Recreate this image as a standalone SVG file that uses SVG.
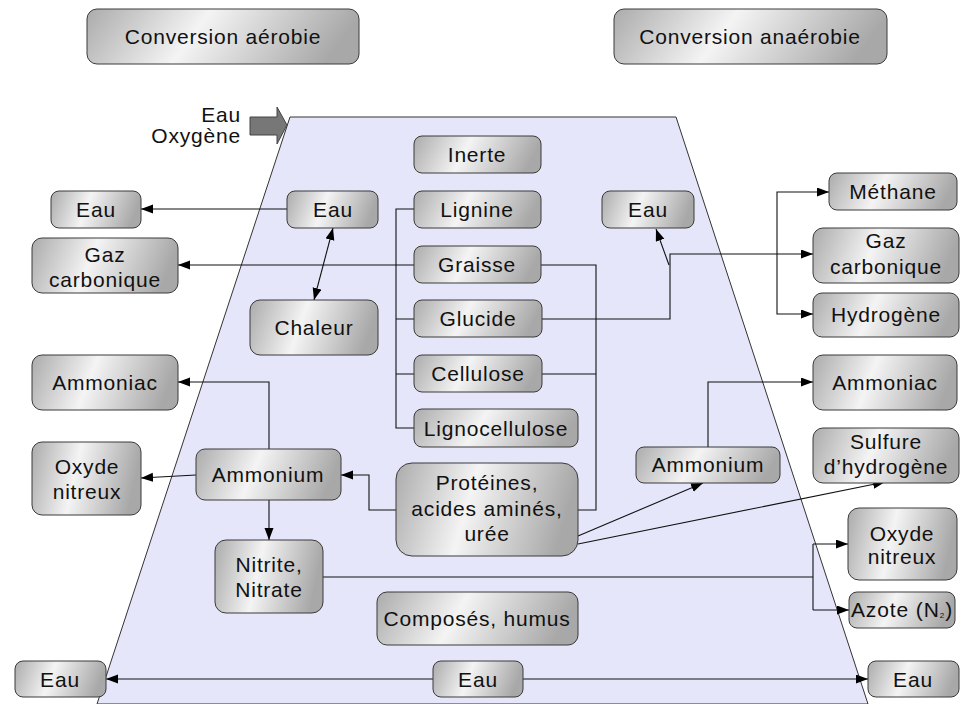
<svg xmlns="http://www.w3.org/2000/svg" width="961" height="704" viewBox="0 0 961 704">
<defs>
<linearGradient id="g" x1="0" y1="0" x2="1" y2="0.15">
<stop offset="0" stop-color="#ababab"/>
<stop offset="0.45" stop-color="#f4f4f4"/>
<stop offset="1" stop-color="#a8a8a8"/>
</linearGradient>
<marker id="ah" markerUnits="userSpaceOnUse" markerWidth="13" markerHeight="10" refX="12" refY="4.5" orient="auto-start-reverse">
<path d="M0,0 L12,4.5 L0,9 z" fill="#000"/>
</marker>
</defs>
<style>
.b{fill:url(#g);stroke:#3a3a3a;stroke-width:1}
.t{font-family:"Liberation Sans",Arial,sans-serif;font-size:21px;letter-spacing:0.8px;fill:#111;text-anchor:middle}
.c{fill:none;stroke:#111;stroke-width:1.1}
.a{marker-end:url(#ah)}
.s{marker-start:url(#ah)}
</style>
<rect width="961" height="704" fill="#fff"/>
<polygon points="290,117 676,117 868,704 97,704" fill="#e6e6fb" stroke="#333" stroke-width="1"/>
<g id="inlet">
<polygon points="250,117 277,117 277,107 287,125 277,144 277,135 250,135" fill="#777" stroke="#444" stroke-width="1"/>
<text class="t" x="241" y="122" style="text-anchor:end">Eau</text>
<text class="t" x="241" y="143" style="text-anchor:end">Oxygène</text>
</g>
<g id="connectors">
<path class="c a" d="M287,209 H141"/>
<path class="c a s" d="M333,228 L314,300"/>
<path class="c a" d="M414,265 H178"/>
<path class="c" d="M414,209 H396 V428 H414 M396,319 H414 M396,374 H414"/>
<path class="c" d="M541,265 H596 V510 H578 M542,374 H596"/>
<path class="c a" d="M542,319 H670 V254 H813"/>
<path class="c a" d="M669,265 L656,229"/>
<path class="c a" d="M777,254 V192 H829"/>
<path class="c a" d="M777,254 V314 H813"/>
<path class="c a" d="M269,449 V382 H178"/>
<path class="c a" d="M196,475 L141,478"/>
<path class="c a" d="M269,500 V540"/>
<path class="c a" d="M396,510 H369 V475 H341"/>
<path class="c a" d="M578,536 L703,483"/>
<path class="c a" d="M578,544 L885,482"/>
<path class="c a" d="M708,447 V382 H813"/>
<path class="c" d="M323,577 H813 M813,544 V610"/>
<path class="c a" d="M813,544 H848"/>
<path class="c a" d="M813,610 H849"/>
<path class="c a" d="M433,679 H106"/>
<path class="c a" d="M523,679 H868"/>
</g>
<g id="conv-aerobie"><rect class="b" x="87" y="9" width="272" height="55" rx="10"/><text class="t" x="223" y="44">Conversion aérobie</text></g>
<g id="conv-anaerobie"><rect class="b" x="614" y="9" width="273" height="55" rx="10"/><text class="t" x="750" y="44">Conversion anaérobie</text></g>
<g id="inerte"><rect class="b" x="414" y="136" width="127" height="37" rx="8"/><text class="t" x="477" y="162">Inerte</text></g>
<g id="lignine"><rect class="b" x="414" y="191" width="127" height="37" rx="8"/><text class="t" x="477" y="217">Lignine</text></g>
<g id="graisse"><rect class="b" x="414" y="246" width="127" height="37" rx="8"/><text class="t" x="477" y="272">Graisse</text></g>
<g id="glucide"><rect class="b" x="414" y="300" width="128" height="37" rx="8"/><text class="t" x="478" y="326">Glucide</text></g>
<g id="cellulose"><rect class="b" x="414" y="355" width="128" height="37" rx="8"/><text class="t" x="478" y="381">Cellulose</text></g>
<g id="lignocellulose"><rect class="b" x="414" y="409" width="164" height="38" rx="8"/><text class="t" x="496" y="436">Lignocellulose</text></g>
<g id="proteines"><rect class="b" x="396" y="463" width="182" height="93" rx="16"/><text class="t" x="487" y="490">Protéines,</text><text class="t" x="487" y="516">acides aminés,</text><text class="t" x="487" y="541">urée</text></g>
<g id="eau-aer"><rect class="b" x="287" y="191" width="91" height="37" rx="8"/><text class="t" x="333" y="217">Eau</text></g>
<g id="chaleur"><rect class="b" x="250" y="300" width="128" height="55" rx="10"/><text class="t" x="314" y="335">Chaleur</text></g>
<g id="eau-out-l"><rect class="b" x="51" y="191" width="90" height="37" rx="8"/><text class="t" x="96" y="217">Eau</text></g>
<g id="gaz-l"><rect class="b" x="32" y="238" width="146" height="55" rx="10"/><text class="t" x="105" y="262">Gaz</text><text class="t" x="105" y="287">carbonique</text></g>
<g id="ammoniac-l"><rect class="b" x="32" y="355" width="146" height="55" rx="10"/><text class="t" x="105" y="390">Ammoniac</text></g>
<g id="oxyde-l"><rect class="b" x="32" y="442" width="109" height="73" rx="10"/><text class="t" x="87" y="474">Oxyde</text><text class="t" x="87" y="499">nitreux</text></g>
<g id="ammonium-l"><rect class="b" x="196" y="449" width="145" height="51" rx="9"/><text class="t" x="268" y="482">Ammonium</text></g>
<g id="nitrite"><rect class="b" x="215" y="540" width="108" height="73" rx="11"/><text class="t" x="269" y="572">Nitrite,</text><text class="t" x="269" y="597">Nitrate</text></g>
<g id="composes"><rect class="b" x="377" y="592" width="201" height="53" rx="10"/><text class="t" x="477" y="626">Composés, humus</text></g>
<g id="eau-bl"><rect class="b" x="15" y="661" width="91" height="36" rx="8"/><text class="t" x="60" y="687">Eau</text></g>
<g id="eau-bm"><rect class="b" x="433" y="661" width="90" height="36" rx="8"/><text class="t" x="478" y="687">Eau</text></g>
<g id="eau-br"><rect class="b" x="868" y="661" width="91" height="36" rx="8"/><text class="t" x="913" y="687">Eau</text></g>
<g id="eau-ana"><rect class="b" x="602" y="191" width="92" height="37" rx="8"/><text class="t" x="648" y="217">Eau</text></g>
<g id="methane"><rect class="b" x="829" y="173" width="128" height="37" rx="8"/><text class="t" x="893" y="199">Méthane</text></g>
<g id="gaz-r"><rect class="b" x="813" y="228" width="146" height="55" rx="10"/><text class="t" x="886" y="248">Gaz</text><text class="t" x="886" y="274">carbonique</text></g>
<g id="hydrogene"><rect class="b" x="813" y="293" width="146" height="44" rx="9"/><text class="t" x="886" y="322">Hydrogène</text></g>
<g id="ammoniac-r"><rect class="b" x="813" y="355" width="144" height="55" rx="10"/><text class="t" x="885" y="390">Ammoniac</text></g>
<g id="sulfure"><rect class="b" x="813" y="428" width="146" height="55" rx="10"/><text class="t" x="886" y="449">Sulfure</text><text class="t" x="886" y="474">d’hydrogène</text></g>
<g id="ammonium-r"><rect class="b" x="636" y="447" width="144" height="36" rx="8"/><text class="t" x="708" y="472">Ammonium</text></g>
<g id="oxyde-r"><rect class="b" x="848" y="508" width="109" height="72" rx="11"/><text class="t" x="902" y="541">Oxyde</text><text class="t" x="902" y="564">nitreux</text></g>
<g id="azote"><rect class="b" x="849" y="592" width="106" height="36" rx="8"/><text class="t" x="902" y="617" style="letter-spacing:0.9px">Azote (N<tspan font-size="8" dy="1">2</tspan><tspan dy="-1">)</tspan></text></g>
</svg>
